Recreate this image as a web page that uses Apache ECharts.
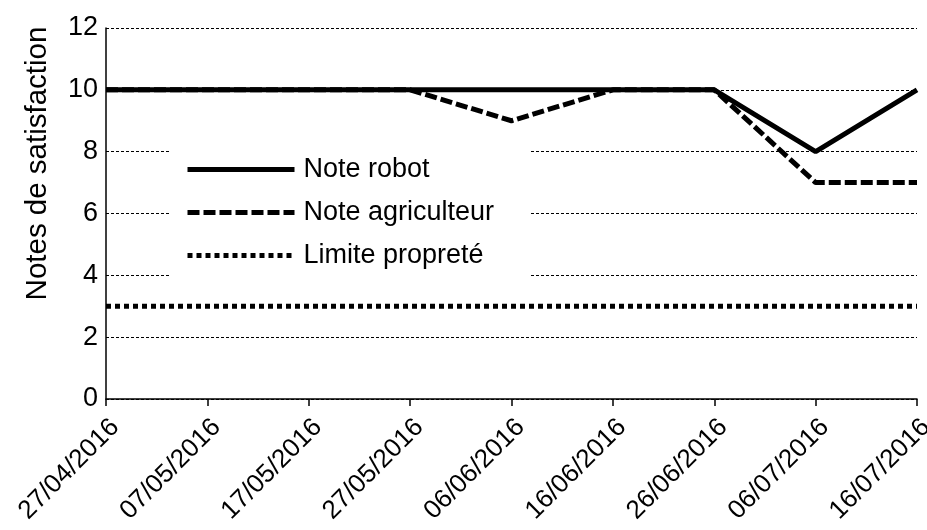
<!DOCTYPE html>
<html><head><meta charset="utf-8">
<script src="https://cdn.jsdelivr.net/npm/echarts@6/dist/echarts.min.js"></script>
<style>html,body{margin:0;padding:0;background:#fff}#c{width:927px;height:530px}</style>
</head><body><div id="c"></div>
<script>
const dates = ['27/04/2016','27/05/2016','06/06/2016','16/06/2016','26/06/2016','06/07/2016','16/07/2016'];
const noteRobot = [10,10,10,10,10,8,10];
const noteAgriculteur = [10,10,9,10,10,7,7];
const limiteDates = ['27/04/2016','16/07/2016'];
const limiteProprete = [3,3];
const seriesNames = ['Note robot','Note agriculteur','Limite propreté'];
const yTicks = [0,2,4,6,8,10,12];
const startDate = '27/04/2016';
const endDate = '16/07/2016';

function toUTC(s){const p=s.split('/');return Date.UTC(+p[2],+p[1]-1,+p[0]);}
const t0 = toUTC(startDate);
const DAY = 86400000;
function dayOf(s){return Math.round((toUTC(s)-t0)/DAY);}
function fmt(d){const dt=new Date(t0+d*DAY);const dd=String(dt.getUTCDate()).padStart(2,'0');const mm=String(dt.getUTCMonth()+1).padStart(2,'0');return dd+'/'+mm+'/'+dt.getUTCFullYear();}

const font='Liberation Sans, Arial, sans-serif';
const chart = echarts.init(document.getElementById('c'),null,{renderer:'canvas'});
chart.setOption({
  animation:false,
  backgroundColor:'#fff',
  grid:{left:106,right:10,top:28,bottom:131,containLabel:false,outerBoundsMode:'none'},
  xAxis:{type:'value',min:0,max:dayOf(endDate),interval:10,
    axisLine:{show:true,lineStyle:{color:'#000',width:1.5}},
    axisTick:{show:true,length:7,lineStyle:{color:'#000',width:1.5}},
    splitLine:{show:false},
    axisLabel:{rotate:45,fontSize:26,color:'#000',fontFamily:font,margin:15,verticalAlign:'top',formatter:v=>fmt(v)}},
  yAxis:{type:'value',min:yTicks[0],max:yTicks[yTicks.length-1],interval:2,
    name:'Notes de satisfaction',nameLocation:'middle',nameGap:53,
    nameTextStyle:{fontSize:29.5,color:'#000',fontFamily:font,padding:[0,0,0,100]},
    axisLine:{show:true,lineStyle:{color:'#000',width:1.5}},
    axisTick:{show:false},
    axisLabel:{fontSize:27,color:'#000',fontFamily:font,margin:8},
    splitLine:{show:true,lineStyle:{color:'#000',width:1,type:[3,2]}}},
  legend:{orient:'vertical',left:170,top:135,backgroundColor:'#fff',
    padding:[21,36,20,15],itemWidth:107,itemHeight:20,itemGap:16,
    itemStyle:{opacity:0},
    lineStyle:{width:5},
    textStyle:{fontSize:27,color:'#000',fontFamily:font,padding:[0,0,0,4]},
    data:seriesNames},
  series:[
    {name:seriesNames[0],type:'line',symbol:'none',data:dates.map((d,i)=>[dayOf(d),noteRobot[i]]),
      lineStyle:{color:'#000',width:5,type:'solid'},itemStyle:{color:'#000'},z:5},
    {name:seriesNames[1],type:'line',symbol:'none',data:dates.map((d,i)=>[dayOf(d),noteAgriculteur[i]]),
      lineStyle:{color:'#000',width:5,type:[12,4]},itemStyle:{color:'#000'},z:4},
    {name:seriesNames[2],type:'line',symbol:'none',data:limiteDates.map((d,i)=>[dayOf(d),limiteProprete[i]]),
      lineStyle:{color:'#000',width:5,type:[5,4]},itemStyle:{color:'#000'},z:3}
  ]
});
</script></body></html>
